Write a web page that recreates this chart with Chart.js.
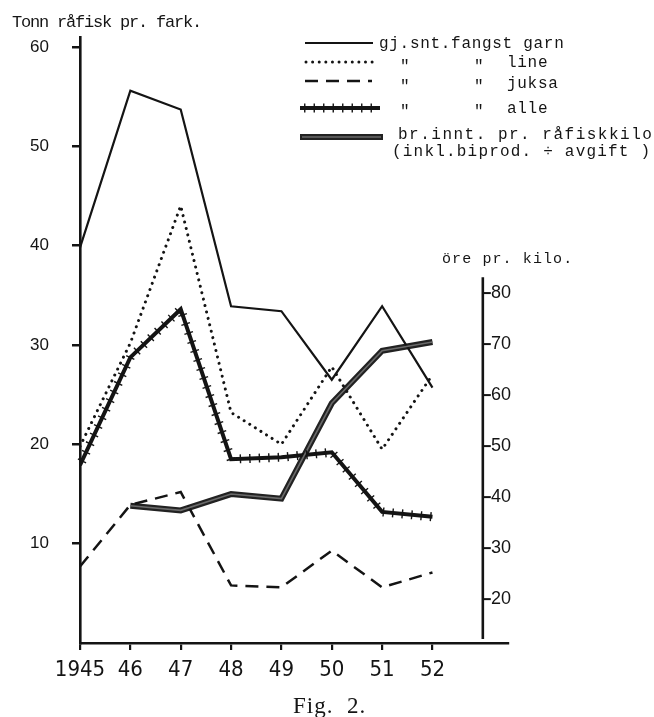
<!DOCTYPE html>
<html><head><meta charset="utf-8">
<script src="https://cdn.jsdelivr.net/npm/chart.js@4.4.1/dist/chart.umd.min.js"></script>
<style>
html,body{margin:0;padding:0;background:#fff;}
#wrap{position:relative;width:654px;height:717px;overflow:hidden;}
#cbox{position:absolute;left:0;top:0;width:654px;height:717px;}
.t{position:absolute;white-space:pre;color:#151515;line-height:1;}
.mono{font-family:"Liberation Mono","DejaVu Sans Mono",monospace;font-size:16px;}
</style></head><body>
<div id="wrap">
<div id="cbox"><canvas id="c"></canvas></div>
<div class="t mono" style="left:12px;top:14px;font-size:17px;letter-spacing:-1.2px;">Tonn råfisk pr. fark.</div>
<div class="t mono" style="left:379px;top:36px;letter-spacing:0.7px;">gj.snt.fangst garn</div>
<div class="t mono" style="left:400px;top:59px;">"</div><div class="t mono" style="left:474px;top:59px;">"</div>
<div class="t mono" style="left:507px;top:55px;letter-spacing:0.7px;">line</div>
<div class="t mono" style="left:400px;top:79px;">"</div><div class="t mono" style="left:474px;top:79px;">"</div>
<div class="t mono" style="left:507px;top:76px;letter-spacing:0.7px;">juksa</div>
<div class="t mono" style="left:400px;top:104px;">"</div><div class="t mono" style="left:474px;top:104px;">"</div>
<div class="t mono" style="left:507px;top:101px;letter-spacing:0.7px;">alle</div>
<div class="t mono" style="left:398px;top:127px;letter-spacing:1.5px;">br.innt. pr. råfiskkilo</div>
<div class="t mono" style="left:392px;top:144px;letter-spacing:1.2px;">(inkl.biprod. ÷ avgift )</div>
<div class="t mono" style="left:442px;top:252px;font-size:15px;letter-spacing:1.1px;">öre pr. kilo.</div>
<div class="t" style="left:293px;top:694px;font-family:'Liberation Serif','DejaVu Serif',serif;font-size:23px;letter-spacing:1px;">Fig.  2.</div>
</div>
<script>
// ---- data ----
const years  = ['1945','46','47','48','49','50','51','52'];
const garn   = [39.8, 55.6, 53.7, 33.9, 33.4, 26.5, 33.9, 25.7];   // tonn
const line   = [19.8, 30.2, 44.0, 23.2, 20.0, 27.8, 19.5, 27.0];   // tonn
const juksa  = [7.7, 13.9, 15.2, 5.8, 5.6, 9.3, 5.6, 7.1];         // tonn
const alle   = [17.9, 28.75, 33.6, 18.5, 18.7, 19.2, 13.2, 12.7];  // tonn
const brInnt = [null, 38.3, 37.4, 40.6, 39.7, 58.4, 68.7, 70.4];   // øre pr. kilo
const leftTicks  = [10, 20, 30, 40, 50, 60];
const rightTicks = [20, 30, 40, 50, 60, 70, 80];

const pts = arr => arr.map((v, i) => ({x: i, y: v}));

const INK = '#141414';
const DOT = [0.01, 6.6];
const DASH = [13, 8];

function drawCrosses(ctx, p, o) {
  ctx.save();
  ctx.strokeStyle = o.color; ctx.lineWidth = o.width; ctx.lineCap = 'butt';
  let carry = o.spacing / 2;
  for (let k = 0; k < p.length - 1; k++) {
    const a = p[k], b = p[k + 1];
    const dx = b.x - a.x, dy = b.y - a.y, L = Math.hypot(dx, dy);
    if (!L) continue;
    const ux = dx / L, uy = dy / L, nx = -uy, ny = ux;
    let d = carry;
    while (d < L) {
      const px = a.x + ux * d, py = a.y + uy * d;
      ctx.beginPath();
      ctx.moveTo(px - nx * o.len, py - ny * o.len);
      ctx.lineTo(px + nx * o.len, py + ny * o.len);
      ctx.stroke();
      d += o.spacing;
    }
    carry = d - L;
  }
  ctx.restore();
}
const CROSS = {color: INK, width: 1.4, len: 4.5, spacing: 9.5};

const crossPlugin = {
  id: 'crossTicks',
  afterDatasetsDraw(chart) {
    chart.data.datasets.forEach((ds, i) => {
      if (!ds.crossTicks) return;
      const meta = chart.getDatasetMeta(i);
      const p = meta.data.filter(e => !e.skip).map(e => ({x: e.x, y: e.y}));
      drawCrosses(chart.ctx, p, CROSS);
    });
  }
};

const rightAxisPlugin = {
  id: 'rightAxisLine',
  afterDraw(chart) {
    const ctx = chart.ctx, yR = chart.scales.yR;
    const x = chart.scales.x.getPixelForValue(8);
    ctx.save();
    ctx.strokeStyle = INK; ctx.lineWidth = 2.6;
    ctx.beginPath();
    ctx.moveTo(x, yR.getPixelForValue(83.1));
    ctx.lineTo(x, yR.getPixelForValue(12.2));
    ctx.stroke();
    ctx.lineWidth = 2;
    yR.ticks.forEach(t => {
      const y = yR.getPixelForValue(t.value);
      ctx.beginPath(); ctx.moveTo(x, y); ctx.lineTo(x + 8, y); ctx.stroke();
    });
    ctx.restore();
  }
};

const legendPlugin = {
  id: 'legendKeys',
  afterDraw(chart) {
    const ctx = chart.ctx;
    const seg = (x1, x2, y, w, col, dash, cap) => {
      ctx.save(); ctx.strokeStyle = col; ctx.lineWidth = w; ctx.setLineDash(dash || []);
      ctx.lineCap = cap || 'butt';
      ctx.beginPath(); ctx.moveTo(x1, y); ctx.lineTo(x2, y); ctx.stroke(); ctx.restore();
    };
    seg(305, 373, 43, 2.2, INK);
    seg(306, 377, 62, 3, INK, DOT, 'round');
    seg(305, 372, 81, 2.5, INK, DASH);
    seg(300, 380, 108, 4, INK);
    drawCrosses(ctx, [{x: 300, y: 108}, {x: 380, y: 108}], CROSS);
    seg(300, 383, 137, 6, '#222');
    seg(302, 381, 137, 1.6, '#6a6a6a');
  }
};

const base = {pointRadius: 0, pointHoverRadius: 0, tension: 0, fill: false, order: 1};

new Chart(document.getElementById('c'), {
  type: 'line',
  data: {
    datasets: [
      Object.assign({}, base, {label: 'br.innt. pr. råfiskkilo (kjerne)', data: pts(brInnt), yAxisID: 'yR',
        borderColor: '#6a6a6a', borderWidth: 1.6, order: 0}),
      Object.assign({}, base, {label: 'gj.snt.fangst garn', data: pts(garn), yAxisID: 'y',
        borderColor: INK, borderWidth: 2.2}),
      Object.assign({}, base, {label: 'line', data: pts(line), yAxisID: 'y',
        borderColor: INK, borderWidth: 3, borderDash: DOT, borderCapStyle: 'round'}),
      Object.assign({}, base, {label: 'juksa', data: pts(juksa), yAxisID: 'y',
        borderColor: INK, borderWidth: 2.5, borderDash: DASH}),
      Object.assign({}, base, {label: 'alle', data: pts(alle), yAxisID: 'y',
        borderColor: INK, borderWidth: 4, crossTicks: true}),
      Object.assign({}, base, {label: 'br.innt. pr. råfiskkilo', data: pts(brInnt), yAxisID: 'yR',
        borderColor: '#222', borderWidth: 6})
    ]
  },
  options: {
    responsive: true, maintainAspectRatio: false, animation: false,
    layout: {padding: {top: 37, left: 0, right: 146, bottom: 0}},
    plugins: {legend: {display: false}, tooltip: {enabled: false}, title: {display: false}},
    scales: {
      x: {
        type: 'linear', min: 0, max: 8.5, position: 'bottom',
        border: {display: true, color: INK, width: 2.6},
        grid: {display: true, drawOnChartArea: false, drawTicks: true, tickLength: 7, color: INK, lineWidth: 2.2},
        ticks: {stepSize: 1, autoSkip: false, maxRotation: 0, padding: 7, color: INK,
          font: {family: '"Liberation Sans Narrow","DejaVu Sans Condensed",sans-serif', size: 22},
          callback: v => years[v]},
        afterBuildTicks: s => { s.ticks = s.ticks.filter(t => Number.isInteger(t.value) && t.value >= 0 && t.value < years.length); },
        afterFit: s => { s.height = 74; }
      },
      y: {
        type: 'linear', position: 'left', min: 0, max: 61,
        border: {display: true, color: INK, width: 2.6},
        grid: {display: true, drawOnChartArea: false, drawTicks: true, tickLength: 8, color: INK, lineWidth: 2.5},
        ticks: {stepSize: 10, padding: 23, color: INK,
          font: {family: '"Liberation Sans","DejaVu Sans",sans-serif', size: 17}},
        afterBuildTicks: s => { s.ticks = leftTicks.map(v => ({value: v})); },
        afterFit: s => { s.width = 80; }
      },
      yR: {
        type: 'linear', position: 'right', min: 11.4, max: 130.2,
        border: {display: false},
        grid: {display: false, drawOnChartArea: false, drawTicks: false},
        ticks: {stepSize: 10, mirror: true, padding: 3, color: INK,
          font: {family: '"Liberation Sans","DejaVu Sans",sans-serif', size: 18}},
        afterBuildTicks: s => { s.ticks = rightTicks.map(v => ({value: v})); },
        afterFit: s => { s.width = 0; }
      }
    }
  },
  plugins: [crossPlugin, rightAxisPlugin, legendPlugin]
});
</script>
</body></html>
